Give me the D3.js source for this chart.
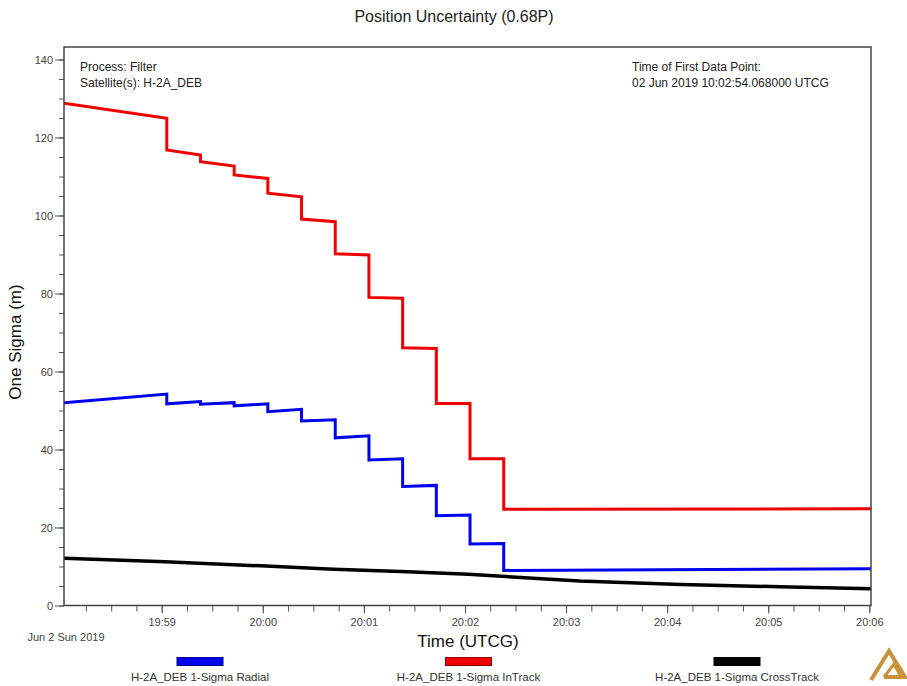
<!DOCTYPE html>
<html>
<head>
<meta charset="utf-8">
<script src="https://cdn.jsdelivr.net/npm/d3@7"></script>
<style>
  body { margin: 0; background: #fff; }
  text { font-family: "Liberation Sans", Arial, sans-serif; }
</style>
</head>
<body>
<div id="chart"></div>
<script>
// step series share these times (a drop = two points at the same time)
var stepTimes = ["19:58:02","19:59:03","19:59:03","19:59:23","19:59:23","19:59:43","19:59:43",
  "20:00:03","20:00:03","20:00:23","20:00:23","20:00:43","20:00:43","20:01:03","20:01:03",
  "20:01:23","20:01:23","20:01:43","20:01:43","20:02:03","20:02:03","20:02:23","20:02:23","20:06:01"];
var radialValues = [52.0,54.2,51.7,52.3,51.6,52.0,51.2,51.7,49.7,50.3,47.3,47.6,43.0,43.5,37.3,
  37.6,30.5,30.8,23.0,23.2,15.8,15.9,9.0,9.4];
var inTrackValues = [128.8,124.9,116.8,115.5,113.8,112.7,110.4,109.5,105.7,104.8,99.1,98.4,90.2,
  89.9,79.0,78.8,66.1,65.9,51.8,51.8,37.6,37.6,24.7,24.8];
var crossTimes = ["19:58:02","19:59:02","20:00:02","20:00:42","20:01:22","20:02:02","20:03:08",
  "20:04:08","20:05:07","20:06:01"];
var crossValues = [12.1,11.2,10.1,9.3,8.7,8.0,6.3,5.4,4.8,4.3];

var seriesNames = ["H-2A_DEB 1-Sigma Radial", "H-2A_DEB 1-Sigma InTrack", "H-2A_DEB 1-Sigma CrossTrack"];
var seriesColors = ["#0000ee", "#ee0000", "#000000"];
var yTicks = [0, 20, 40, 60, 80, 100, 120, 140];
var timeRange = ["19:58:02", "20:06:01"];

var svgWidth = 907, svgHeight = 686;
var plot = { left: 64, right: 871, top: 47, bottom: 605.5 };

var parseTime = function(s) { return d3.timeParse("%Y-%m-%d %H:%M:%S")("2019-06-02 " + s); };

var svg = d3.select("#chart").append("svg")
  .attr("width", svgWidth).attr("height", svgHeight);

var x = d3.scaleTime()
  .domain(timeRange.map(parseTime))
  .range([plot.left, plot.right]);
var y = d3.scaleLinear()
  .domain([0, 143.2])
  .range([plot.bottom, plot.top]);

// title
svg.append("text")
  .attr("x", 454).attr("y", 22)
  .attr("text-anchor", "middle")
  .attr("font-size", 16).attr("fill", "#222")
  .text("Position Uncertainty (0.68P)");

// minor ticks
svg.append("g")
  .attr("transform", `translate(${plot.left},0)`)
  .call(d3.axisLeft(y).tickValues(d3.range(0, 141, 5)).tickSize(5).tickFormat(""))
  .call(g => g.select(".domain").remove())
  .selectAll("line").attr("stroke", "#555");
svg.append("g")
  .attr("transform", `translate(0,${plot.bottom})`)
  .call(d3.axisBottom(x).ticks(d3.timeSecond.every(15)).tickSize(6).tickFormat(""))
  .call(g => g.select(".domain").remove())
  .selectAll("line").attr("stroke", "#555");

// major ticks
var yAxis = svg.append("g")
  .attr("transform", `translate(${plot.left},0)`)
  .call(d3.axisLeft(y).tickValues(yTicks).tickSize(9).tickPadding(2));
yAxis.select(".domain").remove();
yAxis.selectAll("line").attr("stroke", "#555");
yAxis.selectAll("text").attr("font-size", 11).attr("fill", "#444")
  .attr("font-family", "Liberation Sans, Arial, sans-serif");

var xAxis = svg.append("g")
  .attr("transform", `translate(0,${plot.bottom})`)
  .call(d3.axisBottom(x).ticks(d3.timeMinute.every(1)).tickSize(8).tickPadding(5)
    .tickFormat(d3.timeFormat("%H:%M")));
xAxis.select(".domain").remove();
xAxis.selectAll("line").attr("stroke", "#555");
xAxis.selectAll("text").attr("font-size", 11).attr("fill", "#444")
  .attr("font-family", "Liberation Sans, Arial, sans-serif");

svg.append("text")
  .attr("x", 66).attr("y", 641)
  .attr("text-anchor", "middle")
  .attr("font-size", 11).attr("fill", "#444")
  .text("Jun 2 Sun 2019");

// axis titles
svg.append("text")
  .attr("x", 468).attr("y", 647)
  .attr("text-anchor", "middle")
  .attr("font-size", 17).attr("fill", "#111")
  .text("Time (UTCG)");
svg.append("text")
  .attr("transform", "translate(21,342) rotate(-90)")
  .attr("text-anchor", "middle")
  .attr("font-size", 17).attr("fill", "#111")
  .text("One Sigma (m)");

// lines
svg.append("clipPath").attr("id", "clip")
  .append("rect").attr("x", plot.left).attr("y", plot.top)
  .attr("width", plot.right - plot.left).attr("height", plot.bottom - plot.top);

var line = d3.line()
  .x(d => x(d.t))
  .y(d => y(d.v));

var seriesData = [
  stepTimes.map((t, i) => ({ t: parseTime(t), v: radialValues[i] })),
  stepTimes.map((t, i) => ({ t: parseTime(t), v: inTrackValues[i] })),
  crossTimes.map((t, i) => ({ t: parseTime(t), v: crossValues[i] }))
];

svg.append("g").attr("clip-path", "url(#clip)")
  .selectAll("path")
  .data(seriesData)
  .enter()
  .append("path")
  .attr("d", line)
  .attr("fill", "none")
  .attr("stroke", (d, i) => seriesColors[i])
  .attr("stroke-width", (d, i) => i == 2 ? 3.5 : 3)
  .attr("stroke-linejoin", "miter");

// frame
svg.append("rect")
  .attr("x", plot.left).attr("y", plot.top)
  .attr("width", plot.right - plot.left).attr("height", plot.bottom - plot.top)
  .attr("fill", "none")
  .attr("stroke", "#444")
  .attr("stroke-width", 1.5);

// annotations
var notes = svg.append("g").attr("font-size", 12).attr("fill", "#222");
notes.append("text").attr("x", 80).attr("y", 71).text("Process: Filter");
notes.append("text").attr("x", 80).attr("y", 87).text("Satellite(s): H-2A_DEB");
notes.append("text").attr("x", 632).attr("y", 71).text("Time of First Data Point:");
notes.append("text").attr("x", 632).attr("y", 87).text("02 Jun 2019 10:02:54.068000 UTCG");

// legend
var legend = svg.append("g").selectAll("g")
  .data(seriesNames)
  .enter()
  .append("g")
  .attr("transform", (d, i) => `translate(${200 + i * 268.5},0)`);
legend.append("rect")
  .attr("x", -23).attr("y", 657.5)
  .attr("width", 46).attr("height", 8)
  .attr("fill", (d, i) => seriesColors[i])
  .attr("stroke", (d, i) => d3.color(seriesColors[i]).darker(1.5))
  .attr("stroke-width", 1);
legend.append("text")
  .attr("y", 681)
  .attr("text-anchor", "middle")
  .attr("font-size", 11.5).attr("fill", "#333")
  .text(d => d);

// logo
var logo = svg.append("g")
  .attr("fill", "none").attr("stroke", "#c8913a")
  .attr("stroke-width", 4).attr("stroke-linejoin", "miter");
logo.append("path").attr("d", "M871,680 L889,651 L905,677 L884,677");
logo.append("path").attr("d", "M884,677 L894,664 L901,677").attr("stroke-width", 3);
</script>
</body>
</html>
